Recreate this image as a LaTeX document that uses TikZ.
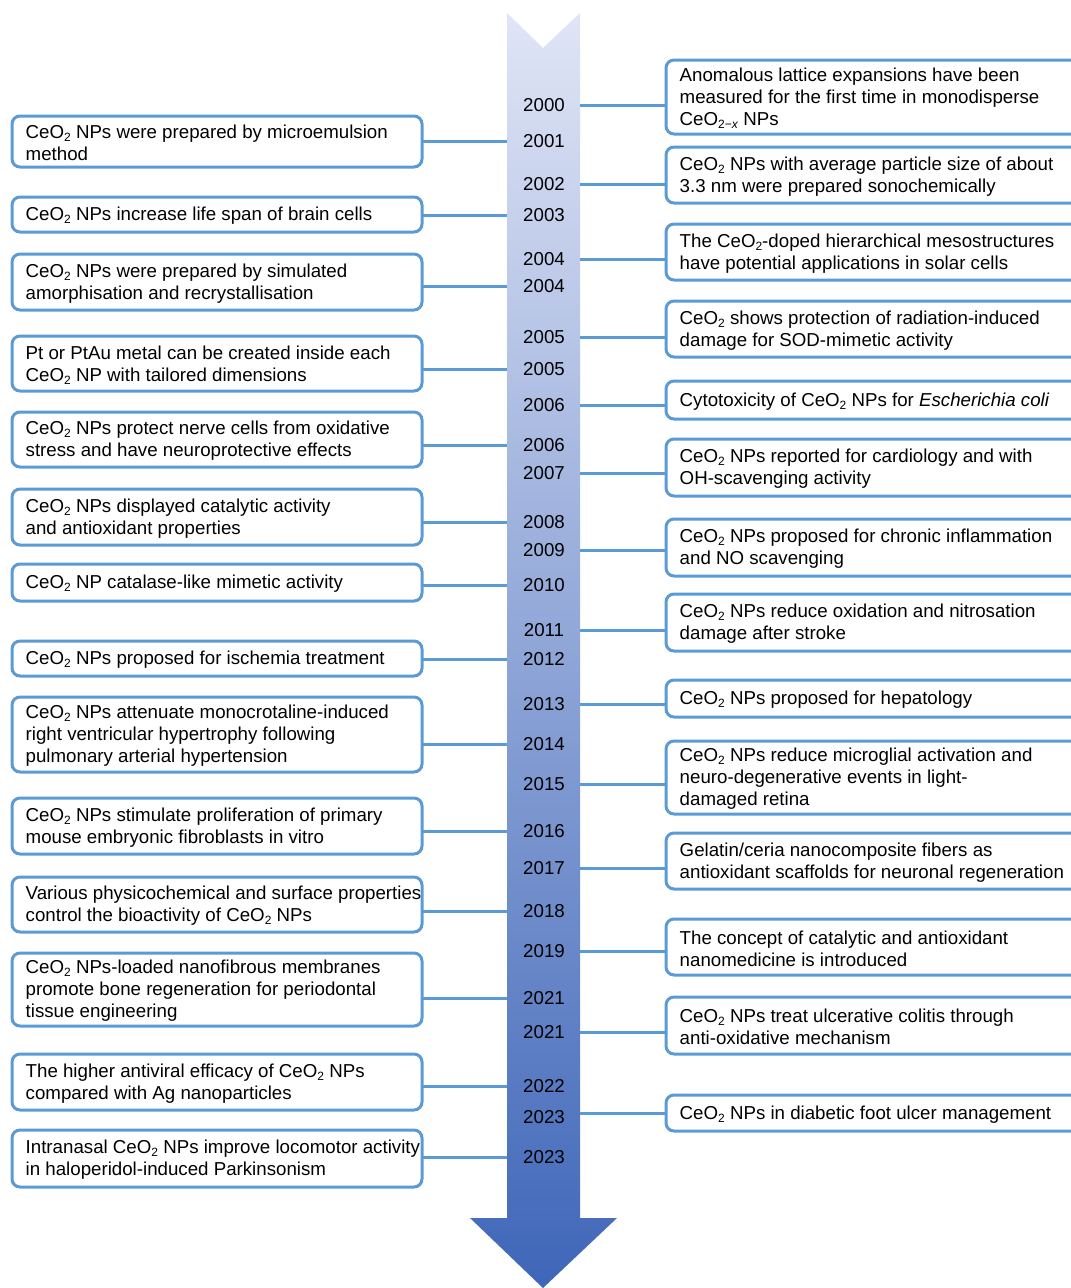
\documentclass[tikz,border=0pt]{standalone}
\usepackage{fontspec}
\setmainfont{Liberation Sans}
\newcommand\sub[1]{\raisebox{-0.3ex}{\fontsize{12}{12}\selectfont #1}}
\newcommand\ceo{CeO\sub{2}}
\definecolor{boxblue}{RGB}{91,155,213}
\definecolor{arrtop}{RGB}{224,229,246}
\definecolor{arrmid}{RGB}{176,199,232}
\definecolor{arrbot}{RGB}{62,102,184}
\begin{document}
\begin{tikzpicture}[x=1pt,y=-1pt,
  every node/.style={font=\fontsize{18.7}{22}\selectfont},
  ebox/.style={draw=boxblue, line width=3pt, rounded corners=8pt, fill=white, inner sep=0pt},
  lbox/.style={ebox, minimum width=410pt},
  rbox/.style={ebox, minimum width=414pt},
  txt/.style={anchor=west, align=left, inner sep=0pt, yshift=-1.5pt},
  yr/.style={inner sep=0pt},
  conn/.style={draw=boxblue, line width=3pt}
]
\useasboundingbox (0,0) rectangle (1071,1288);
% timeline arrow
\shade[top color=arrtop, middle color=arrmid, bottom color=arrbot]
  (507,13) -- (543,48) -- (580,13) -- (580,1218) -- (617,1218) -- (543,1288)
  -- (470,1218) -- (507,1218) -- cycle;
\coordinate (shaftL) at (507,0);
\coordinate (shaftR) at (580,0);
% years
\node[yr] (Y2000)  at (544,105) {2000};
\node[yr] (Y2001)  at (544,141) {2001};
\node[yr] (Y2002)  at (544,184) {2002};
\node[yr] (Y2003)  at (544,215) {2003};
\node[yr] (Y2004a) at (544,259) {2004};
\node[yr] (Y2004b) at (544,286) {2004};
\node[yr] (Y2005a) at (544,337) {2005};
\node[yr] (Y2005b) at (544,369) {2005};
\node[yr] (Y2006a) at (544,405) {2006};
\node[yr] (Y2006b) at (544,445) {2006};
\node[yr] (Y2007)  at (544,473) {2007};
\node[yr] (Y2008)  at (544,522) {2008};
\node[yr] (Y2009)  at (544,550) {2009};
\node[yr] (Y2010)  at (544,585) {2010};
\node[yr] (Y2011)  at (544,630) {2011};
\node[yr] (Y2012)  at (544,659) {2012};
\node[yr] (Y2013)  at (544,704) {2013};
\node[yr] (Y2014)  at (544,744) {2014};
\node[yr] (Y2015)  at (544,784) {2015};
\node[yr] (Y2016)  at (544,831) {2016};
\node[yr] (Y2017)  at (544,868) {2017};
\node[yr] (Y2018)  at (544,911) {2018};
\node[yr] (Y2019)  at (544,951) {2019};
\node[yr] (Y2021a) at (544,998) {2021};
\node[yr] (Y2021b) at (544,1032) {2021};
\node[yr] (Y2022)  at (544,1086) {2022};
\node[yr] (Y2023a) at (544,1117) {2023};
\node[yr] (Y2023b) at (544,1157) {2023};
% left boxes
\node[lbox, minimum height=51pt] (L1)  at (217,141.5) {};
\node[lbox, minimum height=35pt] (L2)  at (217,214.5) {};
\node[lbox, minimum height=56pt] (L3)  at (217,282) {};
\node[lbox, minimum height=55pt] (L4)  at (217,363.5) {};
\node[lbox, minimum height=55pt] (L5)  at (217,439.5) {};
\node[lbox, minimum height=56pt] (L6)  at (217,517) {};
\node[lbox, minimum height=37pt] (L7)  at (217,582.5) {};
\node[lbox, minimum height=35pt] (L8)  at (217,658.5) {};
\node[lbox, minimum height=75pt] (L9)  at (217,734.5) {};
\node[lbox, minimum height=56pt] (L10) at (217,826) {};
\node[lbox, minimum height=55pt] (L11) at (217,904.5) {};
\node[lbox, minimum height=73pt] (L12) at (217,989.5) {};
\node[lbox, minimum height=56pt] (L13) at (217,1082) {};
\node[lbox, minimum height=57pt] (L14) at (217,1158.5) {};
% right boxes
\node[rbox, minimum height=74pt] (R1)  at (873,97) {};
\node[rbox, minimum height=56pt] (R2)  at (873,175) {};
\node[rbox, minimum height=56pt] (R3)  at (873,252) {};
\node[rbox, minimum height=56pt] (R4)  at (873,329) {};
\node[rbox, minimum height=38pt] (R5)  at (873,400) {};
\node[rbox, minimum height=57pt] (R6)  at (873,467.5) {};
\node[rbox, minimum height=57pt] (R7)  at (873,547.5) {};
\node[rbox, minimum height=57pt] (R8)  at (873,622.5) {};
\node[rbox, minimum height=37pt] (R9)  at (873,698.5) {};
\node[rbox, minimum height=73pt] (R10) at (873,777.5) {};
\node[rbox, minimum height=56pt] (R11) at (873,861) {};
\node[rbox, minimum height=56pt] (R12) at (873,947) {};
\node[rbox, minimum height=57pt] (R13) at (873,1025.5) {};
\node[rbox, minimum height=36pt] (R14) at (873,1113) {};
% left texts
\node[txt] (L1t)  at ([xshift=15pt]L1.west)  {\ceo{} NPs were prepared by microemulsion\\method};
\node[txt] (L2t)  at ([xshift=15pt]L2.west)  {\ceo{} NPs increase life span of brain cells};
\node[txt] (L3t)  at ([xshift=15pt]L3.west)  {\ceo{} NPs were prepared by simulated\\amorphisation and recrystallisation};
\node[txt] (L4t)  at ([xshift=15pt]L4.west)  {Pt or PtAu metal can be created inside each\\\ceo{} NP with tailored dimensions};
\node[txt] (L5t)  at ([xshift=15pt]L5.west)  {\ceo{} NPs protect nerve cells from oxidative\\stress and have neuroprotective effects};
\node[txt] (L6t)  at ([xshift=15pt]L6.west)  {\ceo{} NPs displayed catalytic activity\\and antioxidant properties};
\node[txt] (L7t)  at ([xshift=15pt]L7.west)  {\ceo{} NP catalase-like mimetic activity};
\node[txt] (L8t)  at ([xshift=15pt]L8.west)  {\ceo{} NPs proposed for ischemia treatment};
\node[txt] (L9t)  at ([xshift=15pt]L9.west)  {\ceo{} NPs attenuate monocrotaline-induced\\right ventricular hypertrophy following\\pulmonary arterial hypertension};
\node[txt] (L10t) at ([xshift=15pt]L10.west) {\ceo{} NPs stimulate proliferation of primary\\mouse embryonic fibroblasts in vitro};
\node[txt] (L11t) at ([xshift=15pt]L11.west) {Various physicochemical and surface properties\\control the bioactivity of \ceo{} NPs};
\node[txt] (L12t) at ([xshift=15pt]L12.west) {\ceo{} NPs-loaded nanofibrous membranes\\promote bone regeneration for periodontal\\tissue engineering};
\node[txt] (L13t) at ([xshift=15pt]L13.west) {The higher antiviral efficacy of \ceo{} NPs\\compared with Ag nanoparticles};
\node[txt] (L14t) at ([xshift=15pt]L14.west) {Intranasal \ceo{} NPs improve locomotor activity\\in haloperidol-induced Parkinsonism};
% right texts
\node[txt] (R1t)  at ([xshift=15pt]R1.west)  {Anomalous lattice expansions have been\\measured for the first time in monodisperse\\CeO\sub{2−\textit{x}} NPs};
\node[txt] (R2t)  at ([xshift=15pt]R2.west)  {\ceo{} NPs with average particle size of about\\3.3 nm were prepared sonochemically};
\node[txt] (R3t)  at ([xshift=15pt]R3.west)  {The \ceo-doped hierarchical mesostructures\\have potential applications in solar cells};
\node[txt] (R4t)  at ([xshift=15pt]R4.west)  {\ceo{} shows protection of radiation-induced\\damage for SOD-mimetic activity};
\node[txt] (R5t)  at ([xshift=15pt]R5.west)  {Cytotoxicity of \ceo{} NPs for \textit{Escherichia coli}};
\node[txt] (R6t)  at ([xshift=15pt]R6.west)  {\ceo{} NPs reported for cardiology and with\\OH-scavenging activity};
\node[txt] (R7t)  at ([xshift=15pt]R7.west)  {\ceo{} NPs proposed for chronic inflammation\\and NO scavenging};
\node[txt] (R8t)  at ([xshift=15pt]R8.west)  {\ceo{} NPs reduce oxidation and nitrosation\\damage after stroke};
\node[txt] (R9t)  at ([xshift=15pt]R9.west)  {\ceo{} NPs proposed for hepatology};
\node[txt] (R10t) at ([xshift=15pt]R10.west) {\ceo{} NPs reduce microglial activation and\\neuro-degenerative events in light-\\damaged retina};
\node[txt] (R11t) at ([xshift=15pt]R11.west) {Gelatin/ceria nanocomposite fibers as\\antioxidant scaffolds for neuronal regeneration};
\node[txt] (R12t) at ([xshift=15pt]R12.west) {The concept of catalytic and antioxidant\\nanomedicine is introduced};
\node[txt] (R13t) at ([xshift=15pt]R13.west) {\ceo{} NPs treat ulcerative colitis through\\anti-oxidative mechanism};
\node[txt] (R14t) at ([xshift=15pt]R14.west) {\ceo{} NPs in diabetic foot ulcer management};
% connectors left
\foreach \b/\y in {L1/Y2001,L2/Y2003,L3/Y2004b,L4/Y2005b,L5/Y2006b,L6/Y2008,L7/Y2010,
  L8/Y2012,L9/Y2014,L10/Y2016,L11/Y2018,L12/Y2021a,L13/Y2022,L14/Y2023b}
  \draw[conn] ([xshift=-1.5pt]\b.east |- \y) -- (\y -| shaftL);
% connectors right
\foreach \b/\y in {R1/Y2000,R2/Y2002,R3/Y2004a,R4/Y2005a,R5/Y2006a,R6/Y2007,R7/Y2009,
  R8/Y2011,R9/Y2013,R10/Y2015,R11/Y2017,R12/Y2019,R13/Y2021b}
  \draw[conn] (\y -| shaftR) -- ([xshift=1.5pt]\b.west |- \y);
\draw[conn] (R14.west -| shaftR) -- ([xshift=1.5pt]R14.west);
\end{tikzpicture}
\end{document}
